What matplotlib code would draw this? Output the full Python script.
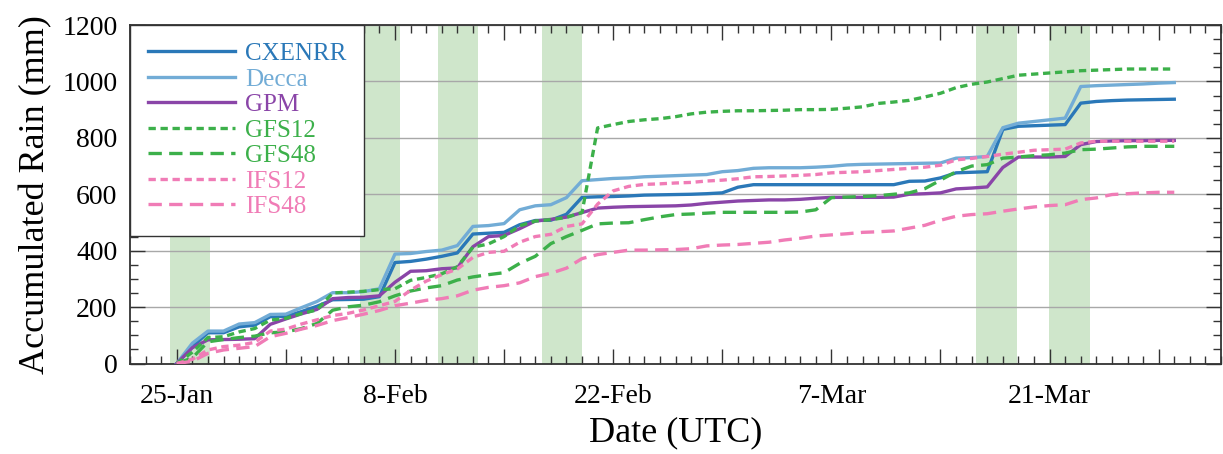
import numpy as np
import pandas as pd
import matplotlib
matplotlib.use('Agg')
import matplotlib.pyplot as plt
from matplotlib.ticker import MultipleLocator, FixedLocator, FixedFormatter

# daily accumulated rain (mm), starting 25-Jan-2016
dates = pd.date_range('2016-01-25', periods=65, freq='D')

cxenrr = [0, 60, 109, 109, 130, 136, 166, 167, 184, 203, 226, 227, 228, 237, 358, 362,
          370, 380, 392, 459, 462, 465, 492, 507, 508, 529, 589, 591, 592, 594, 597, 598,
          599, 600, 602, 605, 625, 634, 634, 634, 634, 634, 634, 634, 634, 634, 634, 646,
          647, 658, 676, 678, 680, 830, 841, 843, 845, 847, 923, 929, 932, 934, 935, 936, 937]
decca = [0, 72, 115, 115, 140, 145, 174, 175, 198, 220, 251, 251, 255, 265, 388, 390,
         397, 402, 418, 486, 489, 496, 545, 559, 563, 588, 648, 652, 656, 658, 662, 664,
         666, 668, 670, 680, 684, 692, 694, 694, 694, 696, 699, 704, 706, 707, 708, 709,
         710, 711, 728, 730, 734, 836, 852, 858, 864, 870, 982, 985, 987, 989, 991, 994, 996]
gpm = [0, 56, 84, 85, 86, 88, 139, 158, 176, 192, 230, 234, 235, 240, 288, 327,
       329, 336, 339, 414, 450, 454, 478, 505, 511, 519, 535, 551, 554, 556, 557, 558,
       559, 562, 568, 572, 576, 578, 580, 580, 582, 586, 589, 589, 589, 589, 590, 600,
       602, 605, 619, 622, 626, 695, 732, 732, 732, 734, 776, 787, 789, 790, 790, 791, 791]
gfs12 = [0, 40, 92, 95, 112, 124, 154, 160, 177, 190, 250, 253, 256, 262, 265, 295,
         305, 318, 343, 412, 424, 450, 488, 505, 510, 518, 535, 835, 847, 858, 864, 868,
         875, 885, 891, 894, 896, 896, 897, 898, 900, 900, 901, 905, 910, 922, 927, 933,
         945, 958, 978, 990, 998, 1010, 1022, 1026, 1030, 1034, 1038, 1040, 1042, 1044, 1044, 1044, 1044]
gfs48 = [0, 20, 77, 85, 92, 97, 109, 112, 124, 142, 189, 201, 207, 219, 240, 257,
         268, 276, 296, 307, 315, 322, 355, 380, 425, 450, 472, 495, 498, 499, 510, 520,
         528, 530, 533, 536, 536, 536, 536, 536, 537, 545, 588, 590, 592, 595, 600, 605,
         620, 650, 680, 700, 705, 728, 732, 737, 740, 746, 758, 760, 764, 768, 770, 770, 770]
ifs12 = [0, 15, 48, 60, 65, 75, 115, 122, 140, 155, 170, 178, 190, 205, 220, 260,
         292, 315, 335, 376, 394, 398, 430, 450, 458, 486, 495, 565, 612, 628, 635, 637,
         640, 642, 647, 650, 655, 662, 663, 665, 667, 670, 676, 678, 680, 684, 688, 692,
         696, 703, 722, 727, 734, 742, 749, 756, 758, 760, 782, 788, 788, 788, 788, 788, 788]
ifs48 = [0, 8, 36, 48, 54, 60, 95, 107, 122, 135, 152, 163, 175, 188, 205, 214,
         224, 230, 240, 260, 270, 276, 286, 308, 320, 338, 372, 386, 394, 402, 402, 403,
         404, 407, 417, 420, 422, 426, 430, 438, 444, 452, 456, 460, 465, 467, 470, 480,
         490, 508, 522, 528, 531, 540, 548, 555, 560, 563, 581, 587, 599, 602, 605, 607, 607]

# shaded periods
shade_start = ['2016-01-24 13:00', '2016-02-05 18:00', '2016-02-10 18:00',
               '2016-02-17 10:00', '2016-03-16 07:00', '2016-03-20 23:00']
shade_end = ['2016-01-27 03:00', '2016-02-08 08:00', '2016-02-13 08:00',
             '2016-02-20 00:00', '2016-03-18 22:00', '2016-03-23 14:00']

tick_dates = pd.date_range('2016-01-25', '2016-03-28', freq='7D')
tick_labels = ['25-Jan', '', '8-Feb', '', '22-Feb', '', '7-Mar', '', '21-Mar', '']

plt.rcParams['font.family'] = 'Liberation Serif'
fig = plt.figure(figsize=(12.23, 4.54), dpi=100)
ax = fig.add_axes([0.1063, 0.1993, 0.8921, 0.7456])

for s, e in zip(shade_start, shade_end):
    ax.axvspan(pd.Timestamp(s), pd.Timestamp(e), color='#cfe6cb', lw=0, zorder=0)

blue = '#2a78b8'
lblue = '#72acd6'
purple = '#8a45a8'
green = '#3cb04a'
pink = '#f07cb6'
dot = (0, (2.2, 1.4))
dash = (0, (4, 2.2))

series = [('CXENRR', cxenrr, blue, '-'),
          ('Decca', decca, lblue, '-'),
          ('GPM', gpm, purple, '-'),
          ('GFS12', gfs12, green, dot),
          ('GFS48', gfs48, green, dash),
          ('IFS12', ifs12, pink, dot),
          ('IFS48', ifs48, pink, dash)]

for name, vals, col, ls in series:
    ax.plot(dates, vals, color=col, ls=ls, lw=2.4, label=name, zorder=3)

ax.set_xlim(pd.Timestamp('2016-01-22'), pd.Timestamp('2016-04-01'))
ax.set_ylim(0, 1200)

ax.xaxis.set_major_locator(FixedLocator(matplotlib.dates.date2num(tick_dates)))
ax.xaxis.set_major_formatter(FixedFormatter(tick_labels))
ax.xaxis.set_minor_locator(matplotlib.dates.DayLocator())
ax.yaxis.set_major_locator(MultipleLocator(200))
ax.yaxis.set_minor_locator(MultipleLocator(50))

ax.yaxis.grid(True, color='#a8a8a8', lw=1, zorder=1)
ax.set_axisbelow(True)

ax.tick_params(which='both', direction='in', top=True, right=True, color='#333333')
ax.tick_params(which='major', length=11, width=1, labelsize=20)
ax.tick_params(which='minor', length=5.5, width=1)
ax.tick_params(axis='x', which='major', pad=15)
ax.tick_params(axis='y', which='major', pad=9)
for sp in ax.spines.values():
    sp.set_linewidth(1.3)
    sp.set_color('#333333')

ax.set_ylabel('Accumulated Rain (mm)', fontsize=26, labelpad=7)
ax.set_xlabel('Date (UTC)', fontsize=26, labelpad=5)

leg = ax.legend(loc='upper left', bbox_to_anchor=(0, 1), borderaxespad=0,
                fontsize=18, handlelength=3.5, handletextpad=0.4,
                labelspacing=0.12, borderpad=0.7, fancybox=False,
                framealpha=1, edgecolor='#333333')
leg.get_frame().set_linewidth(1)
for txt, (_, _, col, _) in zip(leg.get_texts(), series):
    txt.set_color(col)

fig.savefig('out.png', dpi=100)
